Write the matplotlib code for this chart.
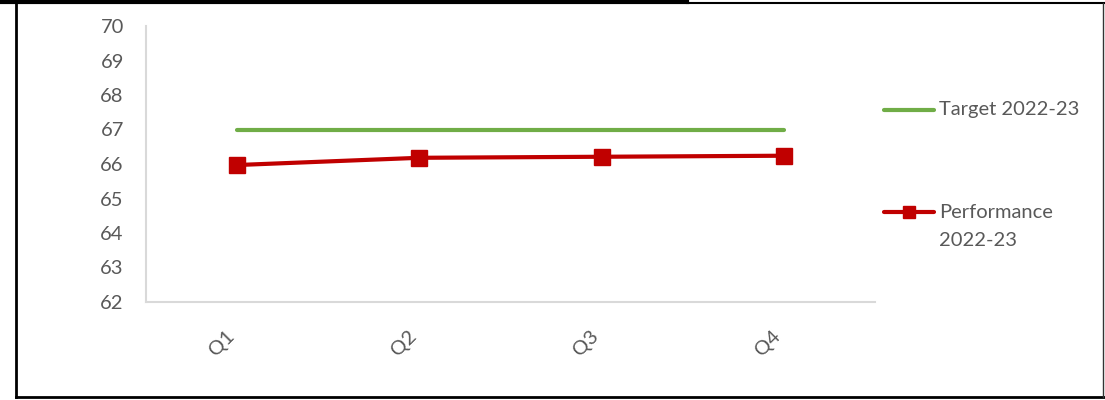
import matplotlib
matplotlib.use('Agg')
import matplotlib.pyplot as plt
from matplotlib.lines import Line2D

quarters = ['Q1', 'Q2', 'Q3', 'Q4']
target = [67, 67, 67, 67]
performance = [65.97, 66.18, 66.21, 66.24]
y_ticks = [62, 63, 64, 65, 66, 67, 68, 69, 70]

GREEN = '#70AD47'
RED = '#C00000'
GRID = '#D9D9D9'
TEXT = '#595959'
FS = 14.5

plt.rcParams['font.family'] = ['Lato', 'DejaVu Sans']

W, H = 1105, 400
fig = plt.figure(figsize=(W / 100, H / 100), dpi=100)
ax = fig.add_axes([146 / W, 1 - 302 / H, (875 - 146) / W, (302 - 26) / H])

x = list(range(len(quarters)))
ax.plot(x, target, color=GREEN, lw=3, solid_capstyle='round')
ax.plot(x, performance, color=RED, lw=3, marker='s', markersize=11,
        solid_capstyle='round')

ax.set_xlim(-0.5, len(quarters) - 0.5)
ax.set_ylim(62, 70)
ax.set_yticks(y_ticks)
ax.set_xticks(x)
ax.set_xticklabels(quarters, rotation=45, ha='right', va='top')

for side in ['top', 'right']:
    ax.spines[side].set_visible(False)
for side in ['left', 'bottom']:
    ax.spines[side].set_color(GRID)
    ax.spines[side].set_linewidth(1.5)
ax.tick_params(axis='both', length=0, colors=TEXT, labelsize=FS)
ax.tick_params(axis='y', pad=16)
ax.tick_params(axis='x', pad=18)

# legend drawn by hand so the marker sits on the first text line
def px(xp, yp):
    return xp / W, 1 - yp / H

fig.add_artist(Line2D([px(884, 0)[0], px(934, 0)[0]], [px(0, 110)[1]] * 2,
                      color=GREEN, lw=3, solid_capstyle='round'))
fig.text(*px(939, 110), 'Target 2022-23', color=TEXT, fontsize=FS, va='center')
fig.add_artist(Line2D([px(884, 0)[0], px(934, 0)[0]], [px(0, 212)[1]] * 2,
                      color=RED, lw=3, solid_capstyle='round'))
fig.add_artist(Line2D([px(909, 0)[0]], [px(0, 212)[1]], color=RED,
                      marker='s', markersize=9))
fig.text(*px(939, 212), 'Performance', color=TEXT, fontsize=FS, va='center')
fig.text(*px(939, 240), '2022-23', color=TEXT, fontsize=FS, va='center')

# outer frame
fig.add_artist(Line2D([0, 687 / W], [1 - 1.5 / H] * 2, color='black', lw=3))
fig.add_artist(Line2D([687 / W, 1], [1 - 3 / H] * 2, color='black', lw=1.5))
fig.add_artist(Line2D([16 / W] * 2, [1 - 3 / H, 1 - 397 / H], color='black', lw=2))
fig.add_artist(Line2D([16 / W, 1], [1 - 397 / H] * 2, color='black', lw=2))
fig.add_artist(Line2D([1103 / W] * 2, [1 - 3 / H, 1 - 397 / H], color='#333333', lw=1))

fig.savefig('out.png', dpi=100)
